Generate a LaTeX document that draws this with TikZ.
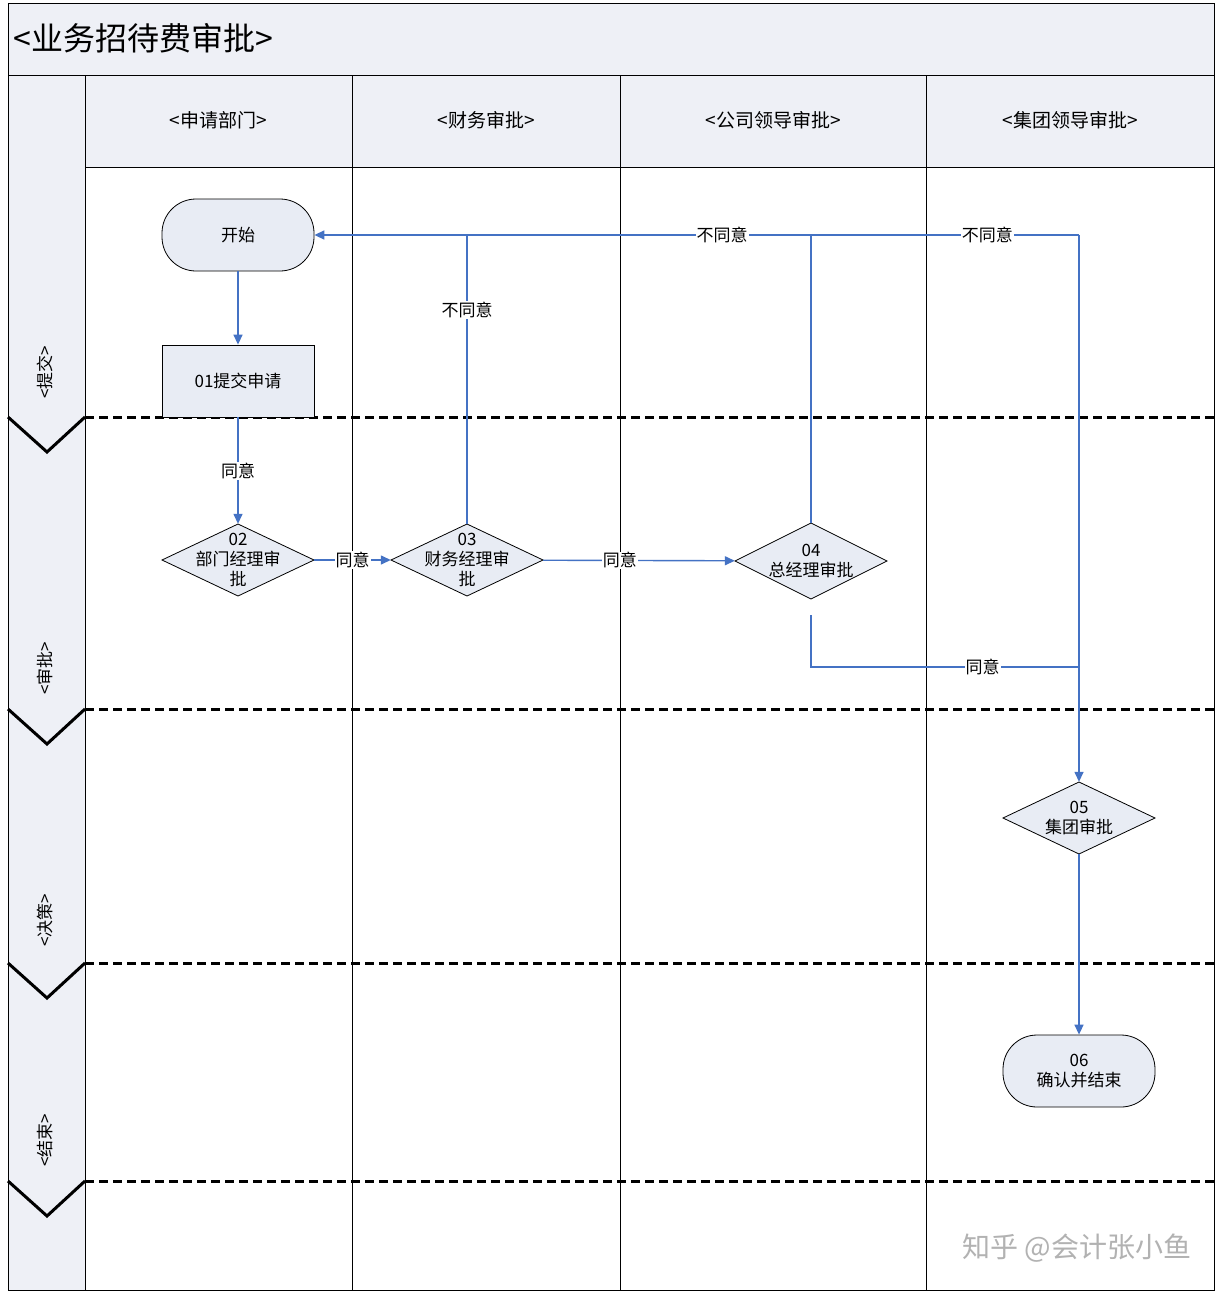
\documentclass[tikz,border=0pt]{standalone}
\usepackage{fontspec}
\setmainfont{Noto Sans CJK SC}
\usetikzlibrary{arrows.meta}
\definecolor{bg}{HTML}{EEF0F6}
\definecolor{nodebg}{HTML}{E8ECF4}
\definecolor{ln}{HTML}{4472C4}
\begin{document}
\begin{tikzpicture}[x=1pt,y=-1pt,
 txt/.style={font=\fontsize{17}{20}\selectfont,text=black},
 term/.style={draw,thick,rounded corners=34pt,fill=nodebg,minimum width=152pt,minimum height=72pt,txt,align=center},
 proc/.style={draw,thick,fill=nodebg,minimum width=152pt,minimum height=72pt,txt,align=center},
 dec/.style={minimum width=152pt,minimum height=72pt,inner sep=0pt,txt,align=center},
 dshape/.style={draw,thick,fill=nodebg},
 flow/.style={ln,line width=1.4pt,-{Triangle[length=10pt,width=9pt]}},
 fl/.style={ln,line width=1.4pt},
 lab/.style={fill=white,inner sep=1pt,txt},
 sep/.style={line width=3pt,dash pattern=on 9pt off 5pt},
 chev/.style={line width=3pt}]
\useasboundingbox (0,0) rectangle (1224,1296);
\fill[white] (0,0) rectangle (1224,1296);
\fill[bg] (8,3) rectangle (1214,75);
\fill[bg] (8,75) rectangle (85,1290);
\fill[bg] (85,75) rectangle (1214,167);
\draw[thick] (8,3) rectangle (1214,1290);
\draw[thick] (8,75) -- (1214,75);
\draw[thick] (85,75) -- (85,1290);
\draw[thick] (85,167) -- (1214,167);
\foreach \x in {352,620,926} \draw[thick] (\x,75) -- (\x,1290);
\node[anchor=west,font=\fontsize{32}{36}\selectfont] (title) at (10,38) {<业务招待费审批>};
\node[txt,font=\fontsize{19}{22}\selectfont] (h1) at (218,120) {<申请部门>};
\node[txt,font=\fontsize{19}{22}\selectfont] (h2) at (486,120) {<财务审批>};
\node[txt,font=\fontsize{19}{22}\selectfont] (h3) at (773,120) {<公司领导审批>};
\node[txt,font=\fontsize{19}{22}\selectfont] (h4) at (1070,120) {<集团领导审批>};
\foreach \y in {417,709,963,1181}{
 \draw[sep] (85,\y) -- (1214,\y);
 \draw[chev] (8,\y) -- (47,\y+35) -- (85,\y);
}
\node[txt,rotate=90] (p1) at (45,372) {<提交>};
\node[txt,rotate=90] (p2) at (45,668) {<审批>};
\node[txt,rotate=90] (p3) at (45,920) {<决策>};
\node[txt,rotate=90] (p4) at (45,1140) {<结束>};
\foreach \x/\y/\h in {238/560/36,467/560/36,811/561/38,1079/818/36}
 \draw[dshape] (\x-76,\y) -- (\x,\y-\h) -- (\x+76,\y) -- (\x,\y+\h) -- cycle;
\node[term] (start) at (238,235) {开始};
\node[proc] (n01) at (238,381) {01提交申请};
\node[dec] (n02) at (238,560) {02\\部门经理审\\批};
\node[dec] (n03) at (467,560) {03\\财务经理审\\批};
\node[dec,minimum height=76pt] (n04) at (811,561) {04\\总经理审批};
\node[dec] (n05) at (1079,818) {05\\集团审批};
\node[term] (n06) at (1079,1071) {06\\确认并结束};
\coordinate (c04b) at (811,615);
\coordinate (cr) at (1079,667);
\coordinate (ct) at (1079,235);
\coordinate (c03t) at (467,235);
\coordinate (c04t) at (811,235);
\draw[flow] (start) -- (n01);
\draw[flow] (n01) -- node[lab,pos=0.5]{同意} (n02);
\draw[flow] (n02) -- node[lab,pos=0.5]{同意} (n03);
\draw[flow] (n03) -- node[lab,pos=0.4]{同意} (n04);
\draw[fl] (n03.north) -- node[lab,pos=0.74]{不同意} (c03t);
\draw[fl] (n04.north) -- (c04t);
\draw[flow] (ct) -- node[lab,pos=0.12]{不同意} (start.east);
\draw[fl] (cr) -- (ct);
\node[lab] (l4) at (722,235) {不同意};
\draw[flow] (c04b) |- node[lab,pos=0.82]{同意} (cr) -- (n05.north);
\draw[flow] (n05) -- (n06);
\node[anchor=east,text=gray!60,font=\fontsize{28}{30}\selectfont] (wm) at (1195,1248) {知乎 @会计张小鱼};
\end{tikzpicture}
\end{document}
